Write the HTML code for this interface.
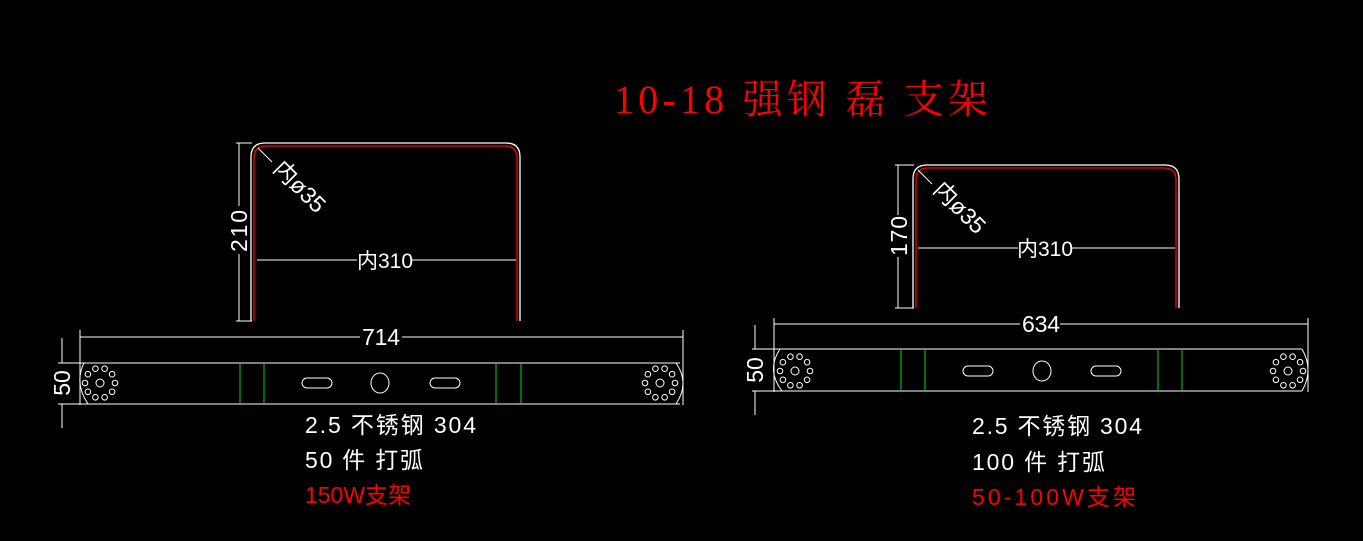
<!DOCTYPE html>
<html><head><meta charset="utf-8"><style>
html,body{margin:0;padding:0;background:#000;width:1363px;height:541px;overflow:hidden}
svg{display:block}
text{font-family:"Liberation Sans","Noto Sans CJK SC",sans-serif}
</style></head><body>
<svg width="1363" height="541" viewBox="0 0 1363 541" xmlns="http://www.w3.org/2000/svg">
<defs>
<g id="holes" fill="none" stroke="#fff" stroke-width="1">
<circle r="4"/>
<circle cx="15" cy="0" r="2.8"/><circle cx="12.1" cy="8.8" r="2.8"/><circle cx="4.6" cy="14.3" r="2.8"/><circle cx="-4.6" cy="14.3" r="2.8"/><circle cx="-12.1" cy="8.8" r="2.8"/><circle cx="-15" cy="0" r="2.8"/><circle cx="-12.1" cy="-8.8" r="2.8"/><circle cx="-4.6" cy="-14.3" r="2.8"/><circle cx="4.6" cy="-14.3" r="2.8"/><circle cx="12.1" cy="-8.8" r="2.8"/>
</g>
</defs>

<text x="614" y="113" fill="#f00" font-size="40" textLength="374" style="font-family:'Liberation Serif','Noto Serif CJK SC',serif">10-18 强钢 磊 支架</text>

<!-- LEFT -->
<g fill="none" stroke-width="1.3">
<path d="M251,321 V157 Q251,143 265,143 H506 Q520,143 520,157 V321" stroke="#fff"/>
<path d="M254,321 V158 Q254,146 266,146 H505 Q517,146 517,158 V321" stroke="#f00"/>
</g>
<g stroke="#fff" stroke-width="1" fill="none" shape-rendering="crispEdges">
<line x1="236" y1="143" x2="252" y2="143"/><line x1="236" y1="321" x2="252" y2="321"/>
<line x1="239" y1="143" x2="239" y2="206"/><line x1="239" y1="254" x2="239" y2="321"/>
<line x1="257" y1="260" x2="357" y2="260"/><line x1="412" y1="260" x2="516" y2="260"/>
<line x1="80" y1="330" x2="80" y2="405"/><line x1="683" y1="330" x2="683" y2="405"/>
<line x1="80" y1="337" x2="360" y2="337"/><line x1="402" y1="337" x2="683" y2="337"/>
<line x1="58" y1="363" x2="680" y2="363"/><line x1="58" y1="404" x2="680" y2="404"/>
<line x1="62" y1="338" x2="62" y2="363"/><line x1="62" y1="404" x2="62" y2="428"/>
</g>
<g stroke="#fff" stroke-width="1" fill="none">
<line x1="258" y1="148" x2="272" y2="162"/>
<path d="M84,363 Q74,383 88,404"/><path d="M676,363 Q690,383 676,404"/>
<rect x="302" y="378" width="30" height="10" rx="5"/>
<rect x="430" y="378" width="30" height="10" rx="5"/>
<ellipse cx="380" cy="383" rx="9" ry="10"/>
</g>
<g stroke="#0d0" stroke-width="1.2" shape-rendering="crispEdges"><line x1="240" y1="363" x2="240" y2="404"/><line x1="264" y1="363" x2="264" y2="404"/><line x1="496" y1="363" x2="496" y2="404"/><line x1="521" y1="363" x2="521" y2="404"/></g>
<use href="#holes" x="100" y="383"/><use href="#holes" x="660" y="383"/>
<g fill="#fff" font-size="23">
<text transform="translate(247,231) rotate(-90)" text-anchor="middle" textLength="42">210</text>
<text x="385" y="268" text-anchor="middle" font-size="21">内310</text>
<text x="381" y="345" text-anchor="middle" textLength="38">714</text>
<text transform="translate(70,383) rotate(-90)" text-anchor="middle">50</text>
<text transform="translate(272,170) rotate(45)">内ø35</text>
</g>
<g font-size="23">
<text x="305" y="433" fill="#fff" textLength="171">2.5 不锈钢 304</text>
<text x="305" y="468" fill="#fff" textLength="118">50 件 打弧</text>
<text x="305" y="503" fill="#f00" textLength="106">150W支架</text>
</g>

<!-- RIGHT -->
<g fill="none" stroke-width="1.3">
<path d="M913,308 V179 Q913,165 927,165 H1165 Q1179,165 1179,179 V308" stroke="#fff"/>
<path d="M916,308 V180 Q916,168 928,168 H1164 Q1176,168 1176,180 V308" stroke="#f00"/>
</g>
<g stroke="#fff" stroke-width="1" fill="none" shape-rendering="crispEdges">
<line x1="895" y1="165" x2="914" y2="165"/><line x1="895" y1="308" x2="914" y2="308"/>
<line x1="898" y1="165" x2="898" y2="215"/><line x1="898" y1="257" x2="898" y2="308"/>
<line x1="918" y1="248" x2="1018" y2="248"/><line x1="1072" y1="248" x2="1175" y2="248"/>
<line x1="774" y1="318" x2="774" y2="392"/><line x1="1308" y1="318" x2="1308" y2="392"/>
<line x1="774" y1="324" x2="1020" y2="324"/><line x1="1060" y1="324" x2="1308" y2="324"/>
<line x1="752" y1="349" x2="1302" y2="349"/><line x1="752" y1="391" x2="1302" y2="391"/>
<line x1="755" y1="325" x2="755" y2="349"/><line x1="755" y1="391" x2="755" y2="415"/>
</g>
<g stroke="#fff" stroke-width="1" fill="none">
<line x1="918" y1="170" x2="932" y2="184"/>
<path d="M780,349 Q766,370 782,391"/><path d="M1302,349 Q1314,370 1302,391"/>
<rect x="963" y="366" width="30" height="10" rx="5"/>
<rect x="1091" y="366" width="30" height="10" rx="5"/>
<ellipse cx="1042" cy="371" rx="9" ry="10"/>
</g>
<g stroke="#0d0" stroke-width="1.2" shape-rendering="crispEdges"><line x1="901" y1="349" x2="901" y2="391"/><line x1="925" y1="349" x2="925" y2="391"/><line x1="1158" y1="349" x2="1158" y2="391"/><line x1="1182" y1="349" x2="1182" y2="391"/></g>
<use href="#holes" x="795" y="371"/><use href="#holes" x="1288" y="371"/>
<g fill="#fff" font-size="23">
<text transform="translate(907,236) rotate(-90)" text-anchor="middle" textLength="40">170</text>
<text x="1045" y="256" text-anchor="middle" font-size="21">内310</text>
<text x="1041" y="332" text-anchor="middle" textLength="38">634</text>
<text transform="translate(763,370) rotate(-90)" text-anchor="middle">50</text>
<text transform="translate(932,191) rotate(45)">内ø35</text>
</g>
<g font-size="23">
<text x="972" y="434" fill="#fff" textLength="170">2.5 不锈钢 304</text>
<text x="972" y="470" fill="#fff" textLength="133">100 件 打弧</text>
<text x="972" y="505" fill="#f00" textLength="164">50-100W支架</text>
</g>
</svg>
</body></html>
